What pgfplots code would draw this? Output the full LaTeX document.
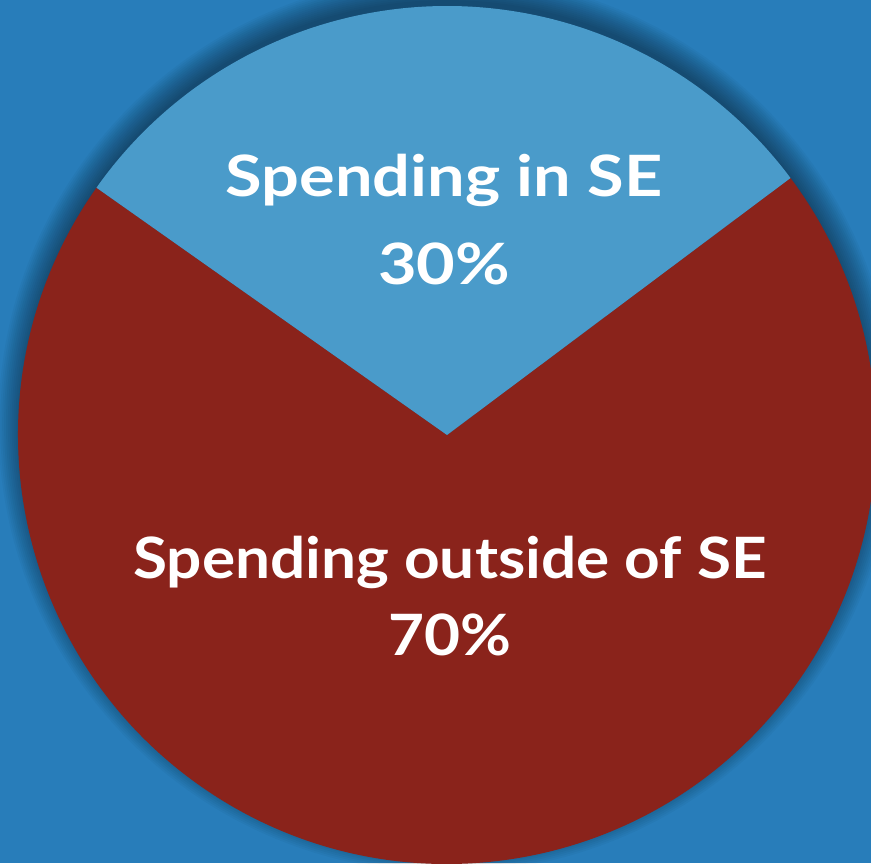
\documentclass[border=0pt]{standalone}
\usepackage{pgfplots}
\usepackage{pgfplotstable}
\pgfplotsset{compat=1.18}
\usepackage{fontspec}
\setmainfont{Lato}[FakeStretch=1.17]
\newfontfamily\redfont{Lato}[FakeStretch=1.09]
\definecolor{bgblue}{RGB}{40,125,186}
\definecolor{lightblue}{RGB}{74,155,202}
\definecolor{darkred}{RGB}{138,35,27}

\pgfplotstableread{
label value
in 30
out 70
}\piedata
\pgfplotstablegetelem{0}{value}\of\piedata \let\va\pgfplotsretval
\pgfplotstablegetelem{1}{value}\of\piedata \let\vb\pgfplotsretval
\pgfmathsetmacro\aStart{90.8-\va*1.8}
\pgfmathsetmacro\aEnd{\aStart+\va*3.6}
\pgfmathsetmacro\bEnd{\aEnd+\vb*3.6}

\begin{document}
\begin{tikzpicture}
\useasboundingbox (0,0) rectangle (435.5pt,431.5pt);
\clip (0,0) rectangle (435.5pt,431.5pt);
\begin{axis}[at={(0,0)}, anchor=south west, scale only axis,
  width=435.5pt, height=431.5pt,
  xmin=0, xmax=871, ymin=0, ymax=863, hide axis, clip=false]
\fill[bgblue] (axis cs:0,0) rectangle (axis cs:871,863);
\pgfplotsinvokeforeach{1,...,14}{
  \fill[black, fill opacity=0.032] (axis cs:447,439) circle[radius={211pt+#1*0.95pt}];
}
\fill[darkred] (axis cs:447,428) -- ++(\aEnd:214.5pt) arc[start angle=\aEnd, end angle=\bEnd, radius=214.5pt] -- cycle;
\fill[lightblue] (axis cs:447,428) -- ++(\aStart:214.5pt) arc[start angle=\aStart, end angle=\aEnd, radius=214.5pt] -- cycle;
\begin{scope}[every node/.style={anchor=base, text=white, font=\fontsize{28.5}{34}\selectfont\bfseries, inner sep=0pt}]
\node at (axis cs:444,666) {Spending in SE};
\node at (axis cs:444,578) {30\%};
\node at (axis cs:450,285) {\redfont\bfseries Spending outside of SE};
\node at (axis cs:450,208) {\redfont\bfseries 70\%};
\end{scope}
\end{axis}
\end{tikzpicture}
\end{document}
